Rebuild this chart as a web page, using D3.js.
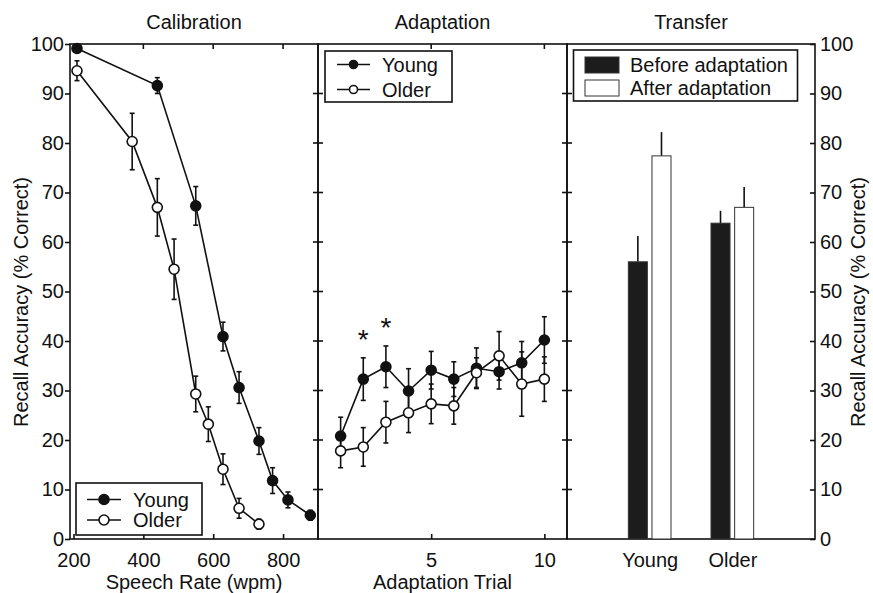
<!DOCTYPE html>
<html lang="en">
<head>
<meta charset="UTF-8">
<title>Recall accuracy</title>
<script src="https://cdn.jsdelivr.net/npm/d3@7"></script>
<style>
  body { margin: 0; background: #fff; }
  text { font-family: "Liberation Sans", Arial, Helvetica, sans-serif; fill: #111; }
</style>
</head>
<body>
<script>
// --- Calibration: accuracy vs speech rate
const calYoungRate = [210, 440, 550, 628, 674, 731, 770, 814, 878];
const calYoungAcc  = [99.1, 91.6, 67.3, 40.9, 30.6, 19.8, 11.8, 7.9, 4.8];
const calYoungErr  = [0.6, 1.6, 3.9, 2.9, 3.2, 2.7, 2.6, 1.6, 1.0];
const calOlderRate = [210, 368, 440, 488, 550, 586, 628, 674, 731];
const calOlderAcc  = [94.6, 80.3, 67.0, 54.5, 29.3, 23.2, 14.1, 6.2, 3.0];
const calOlderErr  = [2.0, 5.7, 5.8, 6.1, 3.6, 3.5, 3.1, 2.0, 1.0];
const rateTicks = [200, 400, 600, 800];

// --- Adaptation: accuracy per trial
const trials = [1, 2, 3, 4, 5, 6, 7, 8, 9, 10];
const adaptYoung    = [20.8, 32.3, 34.8, 29.9, 34.1, 32.3, 34.5, 33.8, 35.6, 40.2];
const adaptYoungErr = [3.8, 4.3, 4.2, 4.5, 3.8, 3.5, 4.1, 3.5, 4.3, 4.7];
const adaptOlder    = [17.8, 18.6, 23.6, 25.5, 27.3, 26.9, 33.6, 37.0, 31.3, 32.3];
const adaptOlderErr = [3.4, 3.9, 4.2, 4.0, 4.0, 3.7, 3.0, 4.9, 6.5, 4.5];
const sigTrials = [2, 3];
const trialTicks = [5, 10];

// --- Transfer: before / after adaptation
const groups = ["Young", "Older"];
const conditions = ["Before adaptation", "After adaptation"];
const beforeAcc = [56.0, 63.8];
const beforeErr = [5.2, 2.5];
const afterAcc  = [77.4, 67.0];
const afterErr  = [4.8, 4.1];

const accTicks = [0, 10, 20, 30, 40, 50, 60, 70, 80, 90, 100];
const seriesNames = ["Young", "Older"];

const width = 873, height = 593;
const yTop = 44, yBottom = 539;
const p1 = [70, 318], p2 = [318, 567], p3 = [567, 815];

const svg = d3.select('body').append('svg')
    .attr('width', width)
    .attr('height', height)
    .style('font-size', '20px');

const y = d3.scaleLinear().domain([0, 100]).range([yBottom, yTop]);
const xCal = d3.scaleLinear().domain([190, 900]).range(p1);
const xAd = d3.scaleLinear().domain([0, 11]).range(p2);
const xTr = d3.scaleLinear().domain([0, 3]).range(p3);

// panel boxes
[p1, p2, p3].forEach(p => {
    svg.append('rect')
        .attr('x', p[0]).attr('y', yTop)
        .attr('width', p[1] - p[0]).attr('height', yBottom - yTop)
        .attr('fill', 'none').attr('stroke', '#111').attr('stroke-width', 1.6);
});

// titles
[['Calibration', p1], ['Adaptation', p2], ['Transfer', p3]].forEach(([t, p]) => {
    svg.append('text')
        .attr('x', (p[0] + p[1]) / 2).attr('y', 29)
        .attr('text-anchor', 'middle').text(t);
});

// left y axis (outward ticks)
const leftAxis = svg.append('g')
    .attr('transform', `translate(${p1[0]},0)`)
    .call(d3.axisLeft(y).tickValues(accTicks).tickSize(5).tickPadding(1));
// right y axis (inward ticks)
const rightAxis = svg.append('g')
    .attr('transform', `translate(${p3[1]},0)`)
    .call(d3.axisRight(y).tickValues(accTicks).tickSize(-5).tickPadding(5));
[leftAxis, rightAxis].forEach(g => {
    g.select('.domain').remove();
    g.selectAll('line').attr('stroke', '#111').attr('stroke-width', 1.6);
    g.selectAll('text').style('font-size', '20px')
        .style('font-family', '"Liberation Sans", Arial, sans-serif').attr('fill', '#111');
});

// divider ticks (both sides)
[p1[1], p2[1]].forEach(xd => {
    svg.append('g').selectAll('line')
        .data(accTicks.slice(1, -1))
        .enter().append('line')
        .attr('x1', xd - 5).attr('x2', xd + 5)
        .attr('y1', d => y(d)).attr('y2', d => y(d))
        .attr('stroke', '#111').attr('stroke-width', 1.6);
});

// x axes
function bottomAxis(scale, ticks, fmt, size) {
    const g = svg.append('g')
        .attr('transform', `translate(0,${yBottom})`)
        .call(d3.axisBottom(scale).tickValues(ticks).tickFormat(fmt).tickSize(size).tickPadding(13.5));
    g.select('.domain').remove();
    g.selectAll('line').attr('stroke', '#111').attr('stroke-width', 1.6);
    g.selectAll('text').style('font-size', '20px')
        .style('font-family', '"Liberation Sans", Arial, sans-serif').attr('fill', '#111');
    return g;
}
function topTicks(scale, ticks) {
    svg.append('g').selectAll('line')
        .data(ticks).enter().append('line')
        .attr('x1', d => scale(d)).attr('x2', d => scale(d))
        .attr('y1', yTop).attr('y2', yTop + 5)
        .attr('stroke', '#111').attr('stroke-width', 1.6);
}
bottomAxis(xCal, rateTicks, d3.format('d'), -5);
bottomAxis(xAd, trialTicks, d3.format('d'), -5);
bottomAxis(xTr, [1, 2], (d, i) => groups[i], 0);
topTicks(xCal, rateTicks.slice(1));
topTicks(xAd, trialTicks);

// axis titles
svg.append('text').attr('x', (p1[0] + p1[1]) / 2).attr('y', 589)
    .attr('text-anchor', 'middle').text('Speech Rate (wpm)');
svg.append('text').attr('x', (p2[0] + p2[1]) / 2).attr('y', 589)
    .attr('text-anchor', 'middle').text('Adaptation Trial');
svg.append('text').attr('transform', 'translate(28,302) rotate(-90)')
    .attr('text-anchor', 'middle').text('Recall Accuracy (% Correct)');
svg.append('text').attr('transform', 'translate(865,302) rotate(-90)')
    .attr('text-anchor', 'middle').text('Recall Accuracy (% Correct)');

// line series with error bars
function series(xs, ys, es, xScale, filled) {
    const pts = xs.map((x, i) => ({x: x, y: ys[i], e: es[i]}));
    const g = svg.append('g');
    g.append('path').datum(pts)
        .attr('fill', 'none').attr('stroke', '#111').attr('stroke-width', 1.6)
        .attr('d', d3.line().x(d => xScale(d.x)).y(d => y(d.y)));
    const eb = g.selectAll('.eb').data(pts).enter().append('g')
        .attr('stroke', '#111').attr('stroke-width', 1.6);
    eb.append('line')
        .attr('x1', d => xScale(d.x)).attr('x2', d => xScale(d.x))
        .attr('y1', d => y(d.y - d.e)).attr('y2', d => y(d.y + d.e));
    [-1, 1].forEach(s => {
        eb.append('line')
            .attr('x1', d => xScale(d.x) - 2.5).attr('x2', d => xScale(d.x) + 2.5)
            .attr('y1', d => y(d.y + s * d.e)).attr('y2', d => y(d.y + s * d.e));
    });
    g.selectAll('circle').data(pts).enter().append('circle')
        .attr('cx', d => xScale(d.x)).attr('cy', d => y(d.y)).attr('r', 5)
        .attr('fill', filled ? '#111' : '#fff')
        .attr('stroke', '#111').attr('stroke-width', 1.6);
}
series(calYoungRate, calYoungAcc, calYoungErr, xCal, true);
series(calOlderRate, calOlderAcc, calOlderErr, xCal, false);
series(trials, adaptYoung, adaptYoungErr, xAd, true);
series(trials, adaptOlder, adaptOlderErr, xAd, false);

// significance stars
svg.append('g').selectAll('text')
    .data(sigTrials).enter().append('text')
    .attr('x', d => xAd(d))
    .attr('y', d => y(adaptYoung[d - 1] + adaptYoungErr[d - 1]) - 9)
    .attr('text-anchor', 'middle')
    .style('font-size', '28px')
    .text('*');

// line legends
function lineLegend(x0, y0, w, h, rowY, lineX, textX, r) {
    const g = svg.append('g');
    g.append('rect').attr('x', x0).attr('y', y0).attr('width', w).attr('height', h)
        .attr('fill', '#fff').attr('stroke', '#111').attr('stroke-width', 1.6);
    seriesNames.forEach((name, i) => {
        const yy = rowY[i];
        g.append('line').attr('x1', lineX[0]).attr('x2', lineX[1])
            .attr('y1', yy).attr('y2', yy).attr('stroke', '#111').attr('stroke-width', 1.6);
        g.append('circle').attr('cx', (lineX[0] + lineX[1]) / 2).attr('cy', yy).attr('r', r)
            .attr('fill', i === 0 ? '#111' : '#fff').attr('stroke', '#111').attr('stroke-width', 1.6);
        g.append('text').attr('x', textX).attr('y', yy + 7).text(name);
    });
}
lineLegend(76, 483, 126, 52, [499.5, 520], [87, 121], 133, 5);
lineLegend(325, 51, 127, 51, [64.5, 89.5], [337, 370], 382, 4);

// transfer bars
const barData = [];
groups.forEach((g, i) => {
    barData.push({grp: i + 1, off: -0.143, v: beforeAcc[i], e: beforeErr[i], fill: '#1c1c1c'});
    barData.push({grp: i + 1, off: 0.143, v: afterAcc[i], e: afterErr[i], fill: '#fff'});
});
const bw = 0.23;
const bars = svg.append('g');
bars.selectAll('line').data(barData).enter().append('line')
    .attr('x1', d => xTr(d.grp + d.off)).attr('x2', d => xTr(d.grp + d.off))
    .attr('y1', d => y(d.v)).attr('y2', d => y(d.v + d.e))
    .attr('stroke', '#111').attr('stroke-width', 1.6);
bars.selectAll('rect').data(barData).enter().append('rect')
    .attr('x', d => xTr(d.grp + d.off - bw / 2))
    .attr('width', xTr(bw) - xTr(0))
    .attr('y', d => y(d.v))
    .attr('height', d => y(0) - y(d.v))
    .attr('fill', d => d.fill)
    .attr('stroke', '#333').attr('stroke-width', 1);

// bar legend
const bl = svg.append('g');
bl.append('rect').attr('x', 573.5).attr('y', 50).attr('width', 224).attr('height', 51)
    .attr('fill', '#fff').attr('stroke', '#111').attr('stroke-width', 1.6);
conditions.forEach((c, i) => {
    const yy = [65, 88][i];
    bl.append('rect').attr('x', 585).attr('y', yy - 8).attr('width', 34).attr('height', 16)
        .attr('fill', i === 0 ? '#1c1c1c' : '#fff').attr('stroke', '#333').attr('stroke-width', 1);
    bl.append('text').attr('x', 630).attr('y', yy + 7).text(c);
});
</script>
</body>
</html>
